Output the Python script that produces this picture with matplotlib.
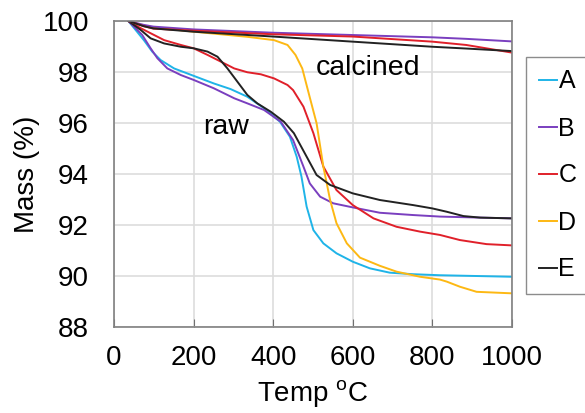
import matplotlib
matplotlib.use("Agg")
import matplotlib.pyplot as plt

plt.rcParams['font.family'] = ['Liberation Sans', 'DejaVu Sans']
plt.rcParams['mathtext.fontset'] = 'custom'
plt.rcParams['mathtext.rm'] = 'Liberation Sans'

# raw samples (temperature in C, mass in %)
temp_a = [36, 75, 96, 117, 151, 200, 251, 293, 335, 377, 417, 442, 459, 471, 484, 501, 526, 559, 600, 643, 693, 752, 819, 1000]
mass_a = [100, 99.25, 98.8, 98.47, 98.14, 97.85, 97.55, 97.33, 97.03, 96.58, 96.05, 95.46, 94.68, 93.9, 92.72, 91.8, 91.28, 90.89, 90.56, 90.3, 90.13, 90.07, 90.03, 89.97]

temp_b = [36, 71, 92, 109, 134, 168, 200, 251, 302, 335, 377, 419, 450, 476, 492, 518, 551, 600, 668, 752, 819, 894, 1000]
mass_b = [100, 99.45, 98.93, 98.54, 98.14, 97.88, 97.69, 97.36, 96.97, 96.77, 96.51, 96.05, 95.33, 94.29, 93.63, 93.11, 92.85, 92.69, 92.48, 92.39, 92.33, 92.3, 92.26]

temp_c = [36, 67, 92, 126, 168, 200, 235, 268, 302, 335, 369, 402, 436, 450, 476, 501, 526, 559, 600, 652, 710, 769, 819, 869, 936, 1000]
mass_c = [100, 99.72, 99.52, 99.25, 99.06, 98.93, 98.67, 98.41, 98.14, 97.99, 97.91, 97.75, 97.49, 97.29, 96.64, 95.6, 94.29, 93.37, 92.78, 92.26, 91.93, 91.74, 91.61, 91.41, 91.25, 91.2]

temp_d = [36, 84, 200, 335, 402, 436, 456, 473, 486, 492, 509, 526, 543, 559, 585, 618, 668, 710, 769, 819, 836, 869, 911, 1000]
mass_d = [100, 99.78, 99.58, 99.38, 99.25, 99.06, 98.67, 98.14, 97.36, 97.0, 95.99, 94.29, 92.98, 92.07, 91.28, 90.72, 90.4, 90.17, 89.97, 89.86, 89.78, 89.58, 89.38, 89.32]

temp_e = [36, 67, 92, 126, 168, 200, 235, 260, 285, 310, 335, 360, 394, 427, 452, 484, 509, 543, 600, 668, 752, 800, 836, 878, 920, 1000]
mass_e = [100, 99.65, 99.32, 99.12, 98.99, 98.93, 98.8, 98.6, 98.14, 97.62, 97.1, 96.77, 96.44, 96.05, 95.6, 94.68, 93.96, 93.57, 93.24, 92.98, 92.78, 92.65, 92.52, 92.35, 92.29, 92.26]

# calcined samples
temp_cal = [36, 74, 99, 200, 400, 600, 800, 885, 1000]
mass_cal_b = [100, 99.85, 99.78, 99.67, 99.54, 99.45, 99.36, 99.3, 99.2]
mass_cal_c = [100, 99.8, 99.7, 99.62, 99.48, 99.39, 99.19, 99.06, 98.76]
mass_cal_e = [100, 99.8, 99.71, 99.58, 99.39, 99.19, 98.99, 98.92, 98.82]

labels = ['A', 'B', 'C', 'D', 'E']
colors = ['#1fb4e8', '#7a3fbf', '#e0202a', '#fdb813', '#222222']

fig = plt.figure(figsize=(5.85, 4.13), dpi=100)
ax = fig.add_axes([114/585, 1 - 327/413, 398/585, 306/413])

raw = [(temp_a, mass_a), (temp_b, mass_b), (temp_c, mass_c), (temp_d, mass_d), (temp_e, mass_e)]
handles = []
for (t, m), lab, col in zip(raw, labels, colors):
    h, = ax.plot(t, m, color=col, lw=1.4, label=lab)
    handles.append(h)

ax.plot(temp_cal, mass_cal_b, color=colors[1], lw=1.4)
ax.plot(temp_cal, mass_cal_c, color=colors[2], lw=1.4)
ax.plot(temp_cal, mass_cal_e, color=colors[4], lw=1.4)

ax.set_xlim(0, 1000)
ax.set_ylim(88, 100)
ax.set_xticks([0, 200, 400, 600, 800, 1000])
ax.set_yticks([88, 90, 92, 94, 96, 98, 100])
ax.grid(True, color='#dddddd', lw=1.2)
ax.set_axisbelow(True)
ax.tick_params(axis='x', direction='in', length=6, color='#707070', labelsize=20, pad=13)
ax.tick_params(axis='y', length=0, labelsize=20, pad=18)
for s in ax.spines.values():
    s.set_color('#808080')
    s.set_linewidth(1.2)

ax.set_xlabel('Temp $^{\\rm o}$C', fontsize=20, labelpad=5)
ax.set_ylabel('Mass (%)', fontsize=20, labelpad=2)

ax.text(281, 95.84, 'raw', fontsize=20.5, ha='center', va='center')
ax.text(638, 98.16, 'calcined', fontsize=20.5, ha='center', va='center')

leg = fig.legend(handles=handles, loc='upper left', bbox_to_anchor=(526/585, 1 - 57/413),
                 fontsize=18, handlelength=0.75, handletextpad=0.05, labelspacing=0.92,
                 fancybox=False, edgecolor='#707070', borderpad=0.5, borderaxespad=0)
leg.get_frame().set_linewidth(1.0)

fig.savefig('out.png', dpi=100)
